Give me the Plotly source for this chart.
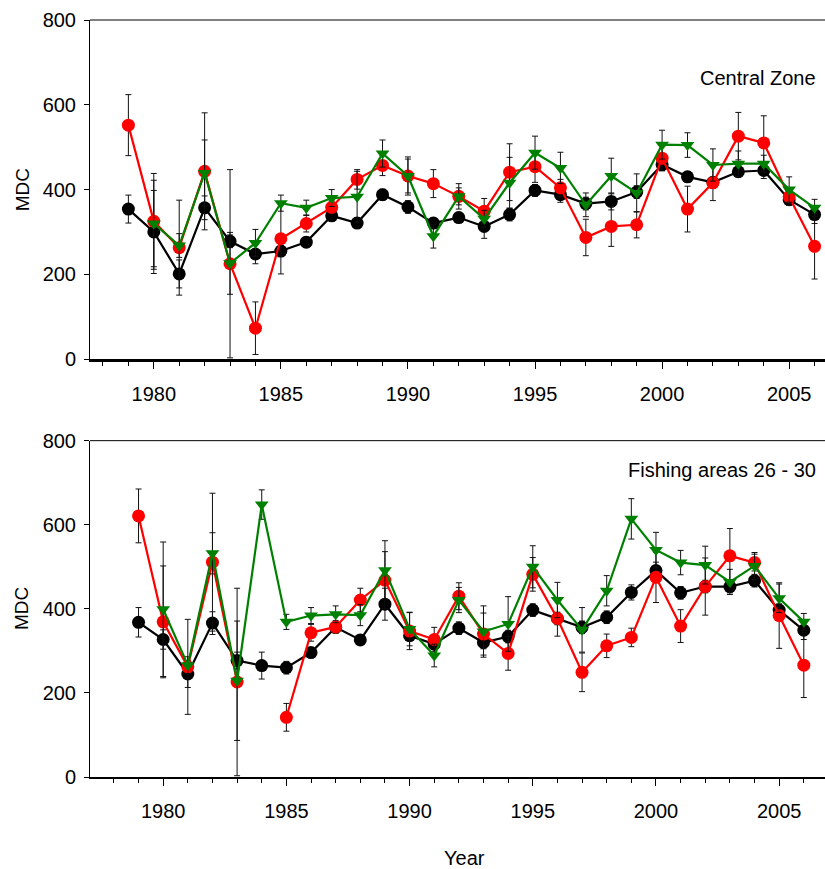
import plotly.graph_objects as go

years = list(range(1979, 2007))

# ---- Top panel: Central Zone ----
cz_black = [354, 300, 201, 357, 278, 248, 255, 276, 338, 321, 388, 359, 321, 334, 313, 341, 398, 388, 367, 372, 394, 459, 430, 417, 442, 445, 376, 341]
cz_black_err = [33, 98, 33, 28, 15, 23, 13, 12, 12, 12, 13, 15, 12, 12, 28, 15, 14, 18, 15, 20, 15, 14, 12, 12, 12, 19, 12, 21]
cz_red = [552, 325, 263, 443, 225, 73, 284, 320, 358, 424, 457, 432, 414, 384, 349, 441, 454, 404, 287, 313, 317, 474, 354, 416, 526, 510, 383, 266]
cz_red_err = [72, 113, 112, 138, 222, 62, 83, 20, 15, 23, 24, 45, 33, 30, 30, 67, 37, 20, 43, 47, 31, 30, 54, 42, 56, 64, 20, 77]
cz_green = [None, 320, 268, 439, 226, 274, 368, 357, 380, 383, 485, 432, 290, 384, 331, 416, 487, 451, 364, 432, 392, 506, 505, 458, 461, 461, 400, 357]
cz_green_err = [0, 102, 28, 78, 73, 32, 19, 18, 20, 60, 32, 40, 28, 20, 20, 60, 39, 37, 28, 42, 45, 34, 29, 38, 30, 20, 30, 20]

# ---- Bottom panel: Fishing areas 26 - 30 ----
fa_black = [368, 327, 245, 366, 277, 265, 260, 296, 356, 326, 411, 336, 316, 354, 320, 334, 397, 377, 356, 380, 439, 491, 438, 453, 453, 467, 397, 349]
fa_black_err = [35, 23, 32, 27, 20, 32, 15, 12, 12, 10, 38, 12, 10, 15, 15, 15, 15, 15, 15, 15, 18, 20, 15, 15, 15, 15, 15, 22]
fa_red = [621, 369, 262, 511, 226, None, 142, 343, 357, 421, 468, 347, 327, 430, 340, 294, 482, 377, 249, 312, 332, 475, 359, 453, 526, 510, 384, 266]
fa_red_err = [64, 133, 113, 164, 223, 0, 33, 20, 15, 28, 68, 44, 29, 32, 50, 40, 40, 42, 46, 28, 22, 60, 39, 68, 65, 20, 78, 77]
fa_green = [None, 399, 266, 532, 229, 648, 369, 384, 387, 385, 492, 352, 289, 421, 346, 364, 500, 421, 350, 443, 614, 540, 510, 504, 464, 502, 425, 369]
fa_green_err = [0, 160, 20, 49, 142, 35, 18, 19, 20, 25, 70, 40, 27, 30, 61, 65, 50, 42, 53, 36, 48, 42, 29, 45, 30, 32, 34, 20]

panel_titles = ["Central Zone", "Fishing areas 26 - 30"]

FONT = "Liberation Sans, Arial, sans-serif"
RED = "#FF0000"
GREEN = "#008000"
BLACK = "#000000"

fig = go.Figure()


def add_series(y, err, color, symbol, size, xa, ya):
    fig.add_trace(go.Scatter(
        x=years, y=y, mode="lines+markers",
        line=dict(color=color, width=2.2),
        marker=dict(color=color, symbol=symbol, size=size, line=dict(width=0)),
        error_y=dict(type="data", array=err, visible=True, color="#111111", thickness=1, width=3),
        xaxis=xa, yaxis=ya, showlegend=False, connectgaps=False,
    ))


add_series(cz_black, cz_black_err, BLACK, "circle", 13, "x", "y")
add_series(cz_red, cz_red_err, RED, "circle", 13, "x", "y")
add_series(cz_green, cz_green_err, GREEN, "triangle-down", 12, "x", "y")

add_series(fa_black, fa_black_err, BLACK, "circle", 13, "x2", "y2")
add_series(fa_red, fa_red_err, RED, "circle", 13, "x2", "y2")
add_series(fa_green, fa_green_err, GREEN, "triangle-down", 12, "x2", "y2")

xcommon = dict(
    tickmode="linear", tick0=1980, dtick=5,
    ticks="outside", ticklen=7, tickwidth=1, tickcolor="black",
    minor=dict(tick0=1980, dtick=1, ticks="outside", ticklen=4, tickwidth=1, tickcolor="black"),
    showgrid=False, zeroline=False, showline=True, linecolor="black",
    tickfont=dict(family=FONT, size=20, color="black"),
    ticklabelstandoff=8,
)
ycommon = dict(
    range=[0, 800], tickmode="linear", tick0=0, dtick=200,
    ticks="outside", ticklen=5, tickwidth=1, tickcolor="black",
    showgrid=False, zeroline=False, showline=True, linecolor="black", linewidth=1,
    tickfont=dict(family=FONT, size=20, color="black"),
    ticklabelstandoff=4,
)

fig.update_layout(
    width=825, height=869,
    margin=dict(l=90, r=0, t=20, b=92),
    paper_bgcolor="white", plot_bgcolor="white",
    xaxis=dict(xcommon, range=[1977.49, 2006.41], domain=[0, 1], anchor="y", linewidth=3),
    yaxis=dict(ycommon, domain=[0.552, 1.0], anchor="x"),
    xaxis2=dict(xcommon, range=[1977.03, 2006.86], domain=[0, 1], anchor="y2", linewidth=1.5),
    yaxis2=dict(ycommon, domain=[0.0, 0.4443], anchor="x2"),
    shapes=[
        dict(type="line", xref="paper", yref="paper", x0=0, x1=1, y0=1.0, y1=1.0,
             line=dict(color="black", width=1)),
        dict(type="line", xref="paper", yref="paper", x0=0, x1=1, y0=0.4443, y1=0.4443,
             line=dict(color="black", width=1)),
    ],
    annotations=[
        dict(text=panel_titles[0], xref="paper", yref="paper", x=0.9905, y=0.924,
             xanchor="right", yanchor="middle", showarrow=False,
             font=dict(family=FONT, size=20, color="black")),
        dict(text=panel_titles[1], xref="paper", yref="paper", x=0.9905, y=0.4055,
             xanchor="right", yanchor="middle", showarrow=False,
             font=dict(family=FONT, size=20, color="black")),
        dict(text="MDC", xref="paper", yref="paper", x=-0.0925, y=0.775, textangle=-90,
             xanchor="center", yanchor="middle", showarrow=False,
             font=dict(family=FONT, size=19, color="black")),
        dict(text="MDC", xref="paper", yref="paper", x=-0.0925, y=0.222, textangle=-90,
             xanchor="center", yanchor="middle", showarrow=False,
             font=dict(family=FONT, size=19, color="black")),
        dict(text="Year", xref="paper", yref="paper", x=0.510, y=-0.107,
             xanchor="center", yanchor="middle", showarrow=False,
             font=dict(family=FONT, size=20, color="black")),
    ],
)

fig.write_html("out.html")
